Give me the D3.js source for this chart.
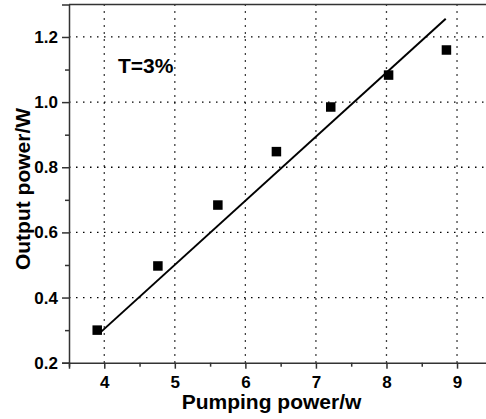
<!DOCTYPE html>
<html>
<head>
<meta charset="utf-8">
<script src="https://cdn.jsdelivr.net/npm/d3@7"></script>
<style>
  body { margin: 0; background: #fff; }
  svg { display: block; font-family: "Liberation Sans", Arial, sans-serif; font-weight: bold; }
</style>
</head>
<body>
<div id="chart"></div>
<script>
var width = 486,
	height = 419;

// measured points
var pumpPower = [3.9, 4.76, 5.61, 6.44, 7.21, 8.03, 8.85];
var outPower = [0.30, 0.497, 0.684, 0.848, 0.985, 1.083, 1.16];

// linear fit endpoints
var fitX = [3.93, 8.84];
var fitY = [0.29, 1.256];

var xTicks = [4, 5, 6, 7, 8, 9];
var xMinor = [3.5, 4.5, 5.5, 6.5, 7.5, 8.5, 9.5];
var yTicks = [0.2, 0.4, 0.6, 0.8, 1.0, 1.2];
var yMinor = [0.3, 0.5, 0.7, 0.9, 1.1];

var x = d3.scaleLinear().domain([3.5, 9.5]).range([69, 492.3]);
var y = d3.scaleLinear().domain([0.2, 1.3]).range([362.7, 4.4]);

var svg = d3.select('#chart').append('svg')
	.attr('width', width)
	.attr('height', height);

// grid
svg.append('g').selectAll('line.vgrid')
	.data(xTicks)
	.enter().append('line')
	.attr('x1', d => x(d)).attr('x2', d => x(d))
	.attr('y1', y(0.2)).attr('y2', y(1.3))
	.style('stroke', '#000')
	.style('stroke-width', 1.3)
	.style('stroke-dasharray', '1.5,5.5');

svg.append('g').selectAll('line.hgrid')
	.data(yTicks.filter(d => d > 0.2))
	.enter().append('line')
	.attr('x1', x(3.5)).attr('x2', width)
	.attr('y1', d => y(d)).attr('y2', d => y(d))
	.style('stroke', '#000')
	.style('stroke-width', 1.3)
	.style('stroke-dasharray', '1.5,5.5');

// axes
var xAxis = svg.append('g')
	.attr('transform', 'translate(0,' + y(0.2) + ')')
	.call(d3.axisBottom(x).tickValues(xTicks).tickSize(6).tickPadding(7).tickFormat(d3.format('d')));
svg.append('g')
	.attr('transform', 'translate(0,' + y(0.2) + ')')
	.call(d3.axisBottom(x).tickValues(xMinor).tickSize(4).tickFormat(''))
	.call(g => g.select('.domain').remove());

var yAxis = svg.append('g')
	.attr('transform', 'translate(' + x(3.5) + ',0)')
	.call(d3.axisLeft(y).tickValues(yTicks).tickSize(7).tickPadding(4).tickFormat(d3.format('.1f')));
svg.append('g')
	.attr('transform', 'translate(' + x(3.5) + ',0)')
	.call(d3.axisLeft(y).tickValues(yMinor).tickSize(4).tickFormat(''))
	.call(g => g.select('.domain').remove());

svg.selectAll('.domain, .tick line')
	.style('stroke', '#333')
	.style('stroke-width', 1.5);
svg.selectAll('.domain').attr('d', function() { return d3.select(this).attr('d'); });
svg.selectAll('.tick text')
	.style('font-family', '"Liberation Sans", Arial, sans-serif')
	.style('font-weight', 'bold')
	.style('font-size', '17px')
	.style('fill', '#000');

// top border
svg.append('line')
	.attr('x1', x(3.5)).attr('x2', width)
	.attr('y1', y(1.3)).attr('y2', y(1.3))
	.style('stroke', '#333')
	.style('stroke-width', 1.5);

// fit line
svg.append('line')
	.attr('x1', x(fitX[0])).attr('y1', y(fitY[0]))
	.attr('x2', x(fitX[1])).attr('y2', y(fitY[1]))
	.style('stroke', '#000')
	.style('stroke-width', 2);

// squares
var sq = 9.5;
svg.append('g').selectAll('rect')
	.data(pumpPower)
	.enter().append('rect')
	.attr('x', (d, i) => x(d) - sq / 2)
	.attr('y', (d, i) => y(outPower[i]) - sq / 2)
	.attr('width', sq)
	.attr('height', sq)
	.style('fill', '#000');

// labels
svg.append('text')
	.text('T=3%')
	.attr('x', 118)
	.attr('y', 73)
	.style('font-size', '21px');

svg.append('text')
	.text('Pumping power/w')
	.attr('x', (181 + 362) / 2)
	.attr('y', 409)
	.attr('text-anchor', 'middle')
	.style('font-size', '21px');

svg.append('text')
	.text('Output power/W')
	.attr('transform', 'translate(30,189) rotate(-90)')
	.attr('text-anchor', 'middle')
	.style('font-size', '21px');
</script>
</body>
</html>
